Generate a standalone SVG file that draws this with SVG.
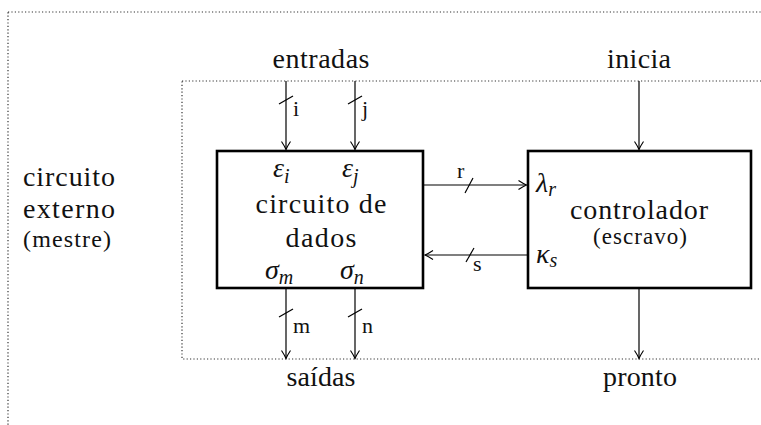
<svg xmlns="http://www.w3.org/2000/svg" width="761" height="425" viewBox="0 0 761 425" font-family="'Liberation Serif', 'DejaVu Serif', 'Times New Roman', serif">
<style>
text{font-family:'Liberation Serif','DejaVu Serif','Times New Roman',serif;fill:#111}
.t{font-size:28px}
.m{font-size:28px;text-anchor:middle}
.s{font-size:24px}
.sm{font-size:23px;text-anchor:middle}
.lb{font-size:22px}
.mi{font-size:28px;font-style:italic}
.sub{font-size:20px;font-style:italic}
.dot{fill:none;stroke:#333;stroke-width:1.2;stroke-dasharray:1.2 2.2}
.box{fill:#fff;stroke:#000;stroke-width:2.6}
.c{fill:none;stroke:#000;stroke-width:1.2}
</style>
<defs>
<marker id="ah" viewBox="-9 -6 10 12" refX="0" refY="0" markerWidth="10" markerHeight="12" markerUnits="userSpaceOnUse" orient="auto">
<path d="M-8,-4.5 Q-3,-1.2 0,0 Q-3,1.2 -8,4.5" fill="none" stroke="#000" stroke-width="1.1"/>
</marker>
</defs>
<g id="externo">
<rect class="dot" x="8" y="12" width="800" height="440"/>
<text class="t" x="23" y="186" textLength="92">circuito</text>
<text class="t" x="23" y="218" textLength="92">externo</text>
<text class="s" x="23" y="247" textLength="88">(mestre)</text>
</g>
<g id="sistema">
<rect class="dot" x="182" y="81" width="600" height="278"/>
</g>
<g id="labels">
<text class="m" x="321" y="68" textLength="97">entradas</text>
<text class="m" x="639" y="68" textLength="64">inicia</text>
<text class="m" x="321" y="386" textLength="69">saídas</text>
<text class="m" x="640" y="386" textLength="74">pronto</text>
</g>
<g id="dados">
<rect class="box" x="217" y="151" width="206" height="137"/>
<text class="mi" x="273" y="177">ε<tspan class="sub" dy="6">i</tspan></text>
<text class="mi" x="342" y="177">ε<tspan class="sub" dy="6">j</tspan></text>
<text class="m" x="321" y="213" textLength="131">circuito de</text>
<text class="m" x="321" y="247" textLength="71">dados</text>
<text class="mi" x="265" y="279">σ<tspan class="sub" dy="5">m</tspan></text>
<text class="mi" x="340" y="279">σ<tspan class="sub" dy="5">n</tspan></text>
</g>
<g id="controlador">
<rect class="box" x="528" y="151" width="223" height="137"/>
<text class="mi" x="536" y="192">λ<tspan class="sub" dy="4">r</tspan></text>
<text class="m" x="639" y="219" textLength="138">controlador</text>
<text class="sm" x="640" y="244" textLength="94">(escravo)</text>
<text class="mi" x="536" y="263">κ<tspan class="sub" dy="4">s</tspan></text>
</g>
<g id="connectors">
<line class="c" x1="286" y1="81" x2="286" y2="149.5" marker-end="url(#ah)"/>
<line class="c" x1="279" y1="104" x2="293" y2="96"/>
<text class="lb" x="293" y="116">i</text>
<line class="c" x1="355" y1="81" x2="355" y2="149.5" marker-end="url(#ah)"/>
<line class="c" x1="348" y1="104" x2="362" y2="96"/>
<text class="lb" x="362" y="116">j</text>
<line class="c" x1="639" y1="81" x2="639" y2="149.5" marker-end="url(#ah)"/>
<line class="c" x1="286" y1="289" x2="286" y2="358.5" marker-end="url(#ah)"/>
<line class="c" x1="279" y1="317" x2="293" y2="309"/>
<text class="lb" x="293" y="333">m</text>
<line class="c" x1="355" y1="289" x2="355" y2="358.5" marker-end="url(#ah)"/>
<line class="c" x1="348" y1="317" x2="362" y2="309"/>
<text class="lb" x="362" y="333">n</text>
<line class="c" x1="639" y1="289" x2="639" y2="358.5" marker-end="url(#ah)"/>
<line class="c" x1="424" y1="185" x2="526.5" y2="185" marker-end="url(#ah)"/>
<line class="c" x1="465" y1="193" x2="473" y2="178"/>
<text class="lb" x="457" y="178">r</text>
<line class="c" x1="527" y1="255" x2="425" y2="255" marker-end="url(#ah)"/>
<line class="c" x1="466" y1="262" x2="474" y2="248"/>
<text class="lb" x="473" y="271">s</text>
</g>
</svg>
